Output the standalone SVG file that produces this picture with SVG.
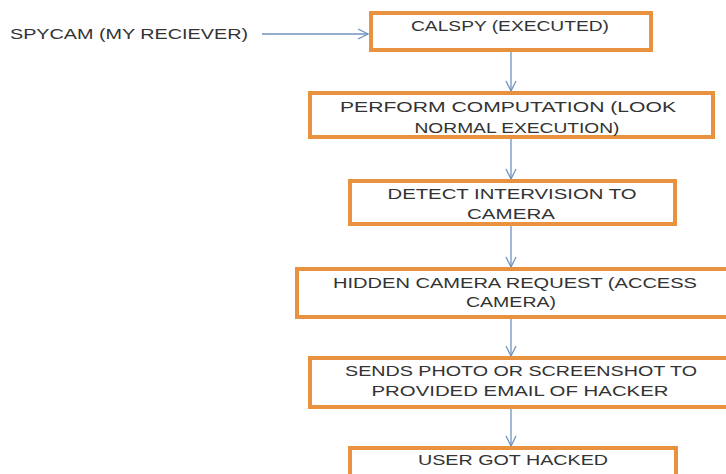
<svg xmlns="http://www.w3.org/2000/svg" width="726" height="474" viewBox="0 0 726 474">
  <style>
    .box { fill: #ffffff; stroke: #E8923F; stroke-width: 4; }
    .lbl { font-family: "Liberation Sans", "Open Sans", sans-serif; font-size: 14.5px; fill: #333333; text-anchor: middle; }
    .lbl-l { font-family: "Liberation Sans", "Open Sans", sans-serif; font-size: 14.5px; fill: #333333; }
    .edge { stroke: #6F93BE; stroke-width: 1.3; fill: none; marker-end: url(#arr); }
  </style>
  <defs>
    <marker id="arr" viewBox="0 0 12 12" refX="11" refY="6" markerWidth="12" markerHeight="12" markerUnits="userSpaceOnUse" orient="auto">
      <path d="M1,1 L11,6 L1,11" fill="none" stroke="#6F93BE" stroke-width="1.3"/>
    </marker>
  </defs>
  <rect width="726" height="474" fill="#ffffff"/>

  <g id="connectors">
    <line class="edge" x1="262" y1="34" x2="368" y2="34"/>
    <line class="edge" x1="511" y1="51" x2="511" y2="91"/>
    <line class="edge" x1="511" y1="138" x2="511" y2="179"/>
    <line class="edge" x1="511" y1="225" x2="511" y2="267"/>
    <line class="edge" x1="511" y1="318" x2="511" y2="356"/>
    <line class="edge" x1="511" y1="408" x2="511" y2="446"/>
  </g>

  <g id="spycam">
    <text class="lbl-l" x="10" y="39" textLength="238" lengthAdjust="spacingAndGlyphs">SPYCAM (MY RECIEVER)</text>
  </g>

  <g id="calspy">
    <rect class="box" x="371" y="13" width="280" height="37"/>
    <text class="lbl" x="510" y="31" textLength="198" lengthAdjust="spacingAndGlyphs">CALSPY (EXECUTED)</text>
  </g>

  <g id="perform">
    <rect class="box" x="310" y="93" width="403" height="44"/>
    <text class="lbl" x="508" y="112" textLength="336" lengthAdjust="spacingAndGlyphs">PERFORM COMPUTATION (LOOK</text>
    <text class="lbl" x="517" y="133" textLength="205" lengthAdjust="spacingAndGlyphs">NORMAL EXECUTION)</text>
  </g>

  <g id="detect">
    <rect class="box" x="350" y="181" width="325" height="43"/>
    <text class="lbl" x="512" y="199" textLength="249" lengthAdjust="spacingAndGlyphs">DETECT INTERVISION TO</text>
    <text class="lbl" x="511" y="219" textLength="88" lengthAdjust="spacingAndGlyphs">CAMERA</text>
  </g>

  <g id="hidden">
    <rect class="box" x="297" y="269" width="431" height="48"/>
    <text class="lbl" x="515" y="288" textLength="364" lengthAdjust="spacingAndGlyphs">HIDDEN CAMERA REQUEST (ACCESS</text>
    <text class="lbl" x="511" y="307" textLength="90" lengthAdjust="spacingAndGlyphs">CAMERA)</text>
  </g>

  <g id="sends">
    <rect class="box" x="310" y="358" width="418" height="49"/>
    <text class="lbl" x="521" y="376" textLength="352" lengthAdjust="spacingAndGlyphs">SENDS PHOTO OR SCREENSHOT TO</text>
    <text class="lbl" x="520" y="396" textLength="297" lengthAdjust="spacingAndGlyphs">PROVIDED EMAIL OF HACKER</text>
  </g>

  <g id="hacked">
    <rect class="box" x="350" y="448" width="326" height="40"/>
    <text class="lbl" x="513" y="465" textLength="190" lengthAdjust="spacingAndGlyphs">USER GOT HACKED</text>
  </g>
</svg>
